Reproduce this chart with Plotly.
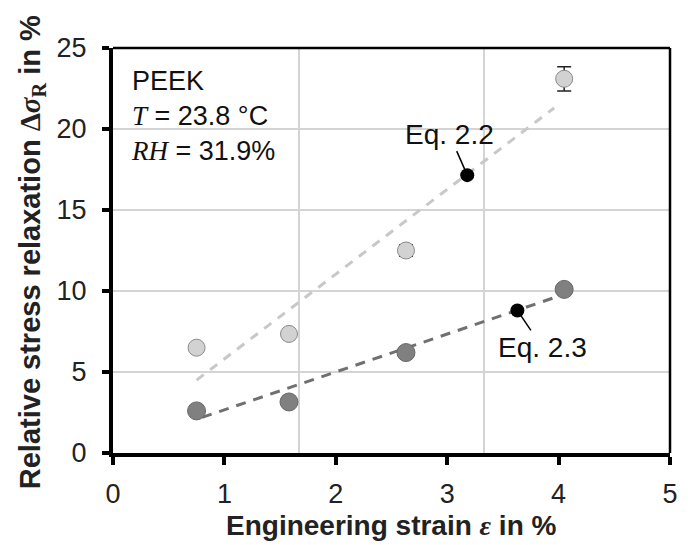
import plotly.graph_objects as go

# ---- data ----
strain = [0.75, 1.58, 2.63, 4.05]
relax_light = [6.5, 7.35, 12.5, 23.1]
relax_light_err = [0.1, 0.15, 0.35, 0.75]
relax_dark = [2.6, 3.15, 6.2, 10.1]
fit22_x = [0.75, 3.96]
fit22_y = [4.5, 21.3]
fit23_x = [0.8, 4.03]
fit23_y = [2.2, 9.75]
eq_x = [3.18, 3.63]
eq_y = [17.15, 8.8]
eq_labels = ["Eq. 2.2", "Eq. 2.3"]
x_ticks = [0, 1, 2, 3, 4, 5]
y_ticks = [0, 5, 10, 15, 20, 25]
x_grid = [5 / 3, 10 / 3]

FONT = "Liberation Sans, Arial, sans-serif"
SERIF = "Liberation Serif, Times New Roman, serif"

fig = go.Figure()

# invisible trace to carry the secondary x axis (vertical gridlines)
fig.add_trace(go.Scatter(x=[0, 5], y=[0, 0], xaxis="x2", yaxis="y", mode="markers",
                         marker=dict(opacity=0), showlegend=False, hoverinfo="skip"))

fig.add_trace(go.Scatter(x=fit22_x, y=fit22_y, mode="lines",
                         line=dict(color="#c8c8c8", width=3, dash="9px,8px"), showlegend=False))
fig.add_trace(go.Scatter(x=fit23_x, y=fit23_y, mode="lines",
                         line=dict(color="#707070", width=3, dash="10px,8px"), showlegend=False))

fig.add_trace(go.Scatter(x=strain, y=relax_light, mode="markers",
                         error_y=dict(type="data", array=relax_light_err, color="#222",
                                      thickness=1.5, width=7),
                         marker=dict(size=17, color="#d2d2d2", line=dict(color="#8a8a8a", width=1)),
                         showlegend=False))
fig.add_trace(go.Scatter(x=strain, y=relax_dark, mode="markers",
                         marker=dict(size=18, color="#808080", line=dict(color="#666666", width=1)),
                         showlegend=False))
fig.add_trace(go.Scatter(x=eq_x, y=eq_y, mode="markers",
                         marker=dict(size=14, color="#000000"), showlegend=False))

# labels with leader lines
offsets = [(-18, -41), (25, 37)]
for (lx, ly, lab, (ax, ay)) in zip(eq_x, eq_y, eq_labels, offsets):
    fig.add_annotation(x=lx, y=ly, text=lab, showarrow=True, arrowhead=0, arrowwidth=1.5,
                       arrowcolor="#000", ax=ax, ay=ay, standoff=6,
                       font=dict(family=FONT, size=28, color="#111"))

fig.add_annotation(xref="paper", yref="paper", x=0.028, y=0.96, xanchor="left", yanchor="top",
                   align="left", showarrow=False,
                   text=("PEEK<br>"
                         f"<span style='font-family:{SERIF}'><i>T</i></span> = 23.8 °C<br>"
                         f"<span style='font-family:{SERIF}'><i>RH</i></span> = 31.9%"),
                   font=dict(family=FONT, size=27, color="#111"))

# axis titles
fig.add_annotation(xref="paper", yref="paper", x=0.5, y=-0.222, xanchor="center", yanchor="bottom",
                   showarrow=False,
                   text=f"<b>Engineering strain <span style='font-family:{SERIF}'><i>ε</i></span> in %</b>",
                   font=dict(family=FONT, size=28, color="#222"))
fig.add_annotation(xref="paper", yref="paper", x=-0.146, y=0.495, xanchor="center", yanchor="middle",
                   showarrow=False, textangle=-90,
                   text=(f"<b>Relative stress relaxation <span style='font-family:{SERIF}'>Δ<i>σ</i></span>"
                         f"<sub><span style='font-family:{SERIF}'>R</span></sub> in %</b>"),
                   font=dict(family=FONT, size=29, color="#222"))

# top & right frame
fig.add_shape(type="line", xref="paper", yref="paper", x0=0, x1=1, y0=1, y1=1,
              line=dict(color="#000", width=2.5))
fig.add_shape(type="line", xref="paper", yref="paper", x0=1, x1=1, y0=0, y1=1,
              line=dict(color="#000", width=2.5))

fig.update_layout(
    width=694, height=545,
    margin=dict(l=113, r=24, t=48, b=92),
    plot_bgcolor="white", paper_bgcolor="white",
    font=dict(family=FONT, color="#222"),
    xaxis=dict(range=[0, 5], tickvals=x_ticks, showgrid=False, zeroline=False, automargin=False,
               showline=True, linecolor="#000", linewidth=4,
               ticks="outside", ticklen=8, tickwidth=4, tickcolor="#000",
               tickfont=dict(size=27, color="#222"), ticklabelstandoff=6),
    xaxis2=dict(range=[0, 5], overlaying="x", anchor="y", tickvals=x_grid, automargin=False,
                showticklabels=False, ticks="", showgrid=True, gridcolor="#d4d4d4",
                gridwidth=2, zeroline=False, showline=False),
    yaxis=dict(range=[0, 25], tickvals=y_ticks, showgrid=True, gridcolor="#d4d4d4", gridwidth=2,
               zeroline=False, showline=True, linecolor="#000", linewidth=4, automargin=False,
               ticks="outside", ticklen=7, tickwidth=4, tickcolor="#000",
               tickfont=dict(size=27, color="#222"), ticklabelstandoff=10),
)

fig.write_html("out.html")
